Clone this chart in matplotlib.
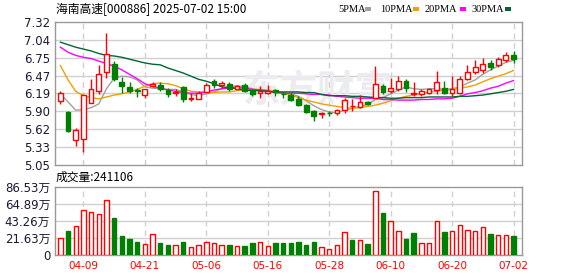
import matplotlib
matplotlib.use('Agg')
import matplotlib.pyplot as plt
from matplotlib.patches import Rectangle
import pandas as pd

# ---- data ----
title = '海南高速[000886] 2025-07-02 15:00'
holidays = ['2025-04-04', '2025-05-01', '2025-05-02', '2025-05-05', '2025-06-02']
dates = [d for d in pd.bdate_range('2025-04-03', '2025-07-02') if d.strftime('%Y-%m-%d') not in holidays]
tick_labels = ['04-09', '04-21', '05-06', '05-16', '05-28', '06-10', '06-20', '07-02']

opens = [6.06, 5.89, 5.45, 5.46, 6.03, 6.22, 6.53, 6.66, 6.37, 6.29,
         6.24, 6.16, 6.31, 6.32, 6.24, 6.20, 6.29, 6.09, 6.09, 6.21,
         6.38, 6.32, 6.33, 6.26, 6.32, 6.22, 6.19, 6.19, 6.24, 6.18,
         6.16, 6.09, 6.00, 5.91, 5.86, 5.88, 5.88, 5.93, 5.98, 5.97,
         6.05, 6.12, 6.30, 6.23, 6.26, 6.38, 6.17, 6.18, 6.20, 6.24,
         6.28, 6.20, 6.20, 6.42, 6.53, 6.56, 6.67, 6.64, 6.71, 6.80]
highs = [6.22, 5.90, 5.63, 6.17, 6.42, 6.63, 7.14, 6.70, 6.44, 6.36,
         6.28, 6.26, 6.36, 6.37, 6.28, 6.26, 6.31, 6.19, 6.22, 6.35,
         6.41, 6.38, 6.36, 6.32, 6.35, 6.25, 6.30, 6.32, 6.26, 6.21,
         6.19, 6.15, 6.02, 5.93, 5.89, 5.90, 5.94, 6.11, 6.09, 6.16,
         6.06, 6.62, 6.34, 6.43, 6.47, 6.42, 6.37, 6.26, 6.27, 6.55,
         6.39, 6.46, 6.47, 6.64, 6.72, 6.75, 6.72, 6.77, 6.84, 6.86]
lows = [6.02, 5.58, 5.35, 5.25, 6.03, 6.17, 6.43, 6.38, 6.19, 6.19,
        6.13, 6.12, 6.29, 6.23, 6.13, 6.14, 6.05, 6.07, 6.09, 6.21,
        6.28, 6.28, 6.22, 6.25, 6.21, 6.14, 6.12, 6.18, 6.15, 6.12,
        6.06, 5.99, 5.88, 5.75, 5.79, 5.83, 5.84, 5.87, 5.91, 5.96,
        6.01, 6.11, 6.18, 6.19, 6.23, 6.21, 6.15, 6.15, 6.18, 6.18,
        6.17, 6.15, 6.18, 6.40, 6.50, 6.51, 6.56, 6.60, 6.69, 6.67]
closes = [6.19, 5.59, 5.60, 6.16, 6.25, 6.49, 6.81, 6.42, 6.31, 6.23,
          6.22, 6.26, 6.33, 6.26, 6.17, 6.21, 6.09, 6.11, 6.19, 6.32,
          6.32, 6.35, 6.26, 6.30, 6.22, 6.17, 6.22, 6.23, 6.21, 6.17,
          6.08, 6.00, 5.89, 5.83, 5.87, 5.87, 5.93, 6.08, 5.98, 6.05,
          6.02, 6.34, 6.21, 6.27, 6.38, 6.27, 6.19, 6.22, 6.25, 6.37,
          6.20, 6.26, 6.41, 6.52, 6.60, 6.65, 6.61, 6.73, 6.80, 6.74]

ma5 = [6.18, 6.05, 5.92, 5.93, 5.96, 6.02, 6.26, 6.43, 6.46, 6.45,
       6.40, 6.29, 6.27, 6.26, 6.25, 6.25, 6.21, 6.17, 6.15, 6.18,
       6.21, 6.26, 6.29, 6.31, 6.29, 6.26, 6.23, 6.23, 6.21, 6.20,
       6.18, 6.14, 6.07, 5.99, 5.93, 5.89, 5.88, 5.92, 5.95, 5.98,
       6.01, 6.09, 6.12, 6.18, 6.24, 6.29, 6.26, 6.25, 6.26, 6.26,
       6.25, 6.26, 6.29, 6.35, 6.40, 6.49, 6.56, 6.62, 6.68, 6.71]
ma10 = [6.63, 6.40, 6.22, 6.15, 6.12, 6.10, 6.13, 6.16, 6.18, 6.21,
        6.25, 6.30, 6.34, 6.35, 6.34, 6.31, 6.26, 6.22, 6.21, 6.21,
        6.20, 6.21, 6.21, 6.23, 6.24, 6.25, 6.25, 6.24, 6.21, 6.19,
        6.16, 6.12, 6.08, 6.05, 6.02, 6.00, 5.98, 5.96, 5.95, 5.96,
        5.98, 6.00, 6.03, 6.07, 6.11, 6.14, 6.16, 6.19, 6.21, 6.22,
        6.24, 6.25, 6.27, 6.29, 6.32, 6.37, 6.42, 6.46, 6.50, 6.55]
ma20 = [6.92, 6.84, 6.79, 6.76, 6.74, 6.70, 6.66, 6.62, 6.56, 6.49,
        6.42, 6.34, 6.30, 6.27, 6.24, 6.22, 6.20, 6.19, 6.19, 6.21,
        6.24, 6.26, 6.27, 6.28, 6.27, 6.25, 6.24, 6.22, 6.20, 6.19,
        6.19, 6.19, 6.18, 6.17, 6.17, 6.16, 6.14, 6.13, 6.12, 6.11,
        6.11, 6.11, 6.09, 6.09, 6.08, 6.08, 6.08, 6.09, 6.09, 6.10,
        6.10, 6.11, 6.14, 6.18, 6.20, 6.23, 6.27, 6.30, 6.35, 6.39]
ma30 = [7.00, 6.96, 6.92, 6.89, 6.86, 6.82, 6.79, 6.78, 6.76, 6.73,
        6.70, 6.67, 6.65, 6.64, 6.59, 6.55, 6.51, 6.46, 6.41, 6.38,
        6.34, 6.29, 6.28, 6.26, 6.24, 6.23, 6.23, 6.22, 6.21, 6.21,
        6.21, 6.21, 6.20, 6.20, 6.17, 6.15, 6.15, 6.15, 6.14, 6.14,
        6.13, 6.12, 6.12, 6.11, 6.11, 6.12, 6.12, 6.12, 6.13, 6.13,
        6.13, 6.13, 6.14, 6.14, 6.15, 6.16, 6.18, 6.20, 6.22, 6.25]

# volume in 万 (10k lots)
volume = [21.5, 30.4, 36.7, 57.0, 54.0, 51.9, 69.6, 47.3, 24.5, 20.3,
          16.9, 13.9, 26.6, 15.2, 12.7, 12.7, 16.5, 10.1, 12.7, 16.5,
          14.8, 12.7, 12.7, 11.4, 11.4, 15.2, 16.0, 11.4, 15.2, 15.2,
          15.2, 16.5, 12.7, 16.5, 10.1, 7.2, 12.7, 29.1, 19.0, 19.0,
          13.9, 81.0, 53.2, 42.6, 30.0, 20.3, 27.9, 14.8, 14.8, 42.6,
          29.1, 30.0, 37.6, 31.2, 30.0, 35.5, 26.6, 24.9, 24.9, 24.1106]

price_ticks = [5.05, 5.33, 5.62, 5.90, 6.19, 6.47, 6.75, 7.04, 7.32]
vol_ticks = [0, 21.63, 43.26, 64.89, 86.53]

# ---- style ----
RED = '#ff0000'
GREEN = '#008000'
GRID = '#d0d0d0'
SPINE = '#999999'
TXT = '#1a1a33'
ma_colors = ['#a0a0a0', '#f0a000', '#ff00ff', '#006633']
W, H = 578, 276


def fx(x):
    return x / W


def fy(y):
    return 1 - y / H


fig = plt.figure(figsize=(W / 100, H / 100), dpi=100)
ax = fig.add_axes([fx(55), fy(165), (522 - 55) / W, (165 - 22) / H])
axv = fig.add_axes([fx(55), fy(255), (522 - 55) / W, (255 - 186.7) / H])

n = len(closes)
xs = list(range(n))
date_str = [d.strftime('%m-%d') for d in dates]
tick_pos = [date_str.index(t) for t in tick_labels]

for a in (ax, axv):
    a.set_xlim(-0.7, n + 0.1)
    for s in a.spines.values():
        s.set_color(SPINE)
        s.set_linewidth(1)
    a.tick_params(length=0, colors=TXT, labelsize=8.5)
    for p in tick_pos:
        a.axvline(p, color=GRID, lw=1, ls=(0, (4, 3)), zorder=0)

# price panel
ax.set_ylim(price_ticks[0], price_ticks[-1])
ax.set_yticks(price_ticks)
ax.set_yticklabels(['%.2f' % v for v in price_ticks])
for v in price_ticks[1:-1]:
    ax.axhline(v, color=GRID, lw=1, zorder=0)
ax.set_xticks([])

# watermark, kept behind the candles
ax.text(fx(318), fy(91), '东方财富', fontsize=27, fontweight='bold', color='#ebebf0',
        ha='center', va='center', family=['Noto Sans CJK SC'],
        transform=fig.transFigure, zorder=0.5)

for m, c in zip([ma5, ma10, ma20, ma30], ma_colors):
    ax.plot(xs, m, color=c, lw=1, zorder=2)

for i in xs:
    o, h, l, c = opens[i], highs[i], lows[i], closes[i]
    up = c >= o
    col = RED if up else GREEN
    ax.vlines(i, l, h, color=col, lw=1, zorder=3)
    body = max(abs(c - o), 0.006)
    ax.bar(i, body, bottom=min(o, c), width=0.62,
           facecolor='white' if up else GREEN, edgecolor=col, lw=1, zorder=4)

# volume panel
axv.set_ylim(0, vol_ticks[-1])
axv.set_yticks(vol_ticks)
axv.set_yticklabels(['0'] + ['%.2f万' % v for v in vol_ticks[1:]],
                    family=['DejaVu Sans', 'Noto Sans CJK SC'])
for v in vol_ticks[1:-1]:
    axv.axhline(v, color=GRID, lw=1, zorder=0)
axv.set_xticks(tick_pos)
axv.set_xticklabels(tick_labels, color=RED, fontsize=7.5)
axv.tick_params(axis='x', pad=4)

for i in xs:
    prev = closes[i - 1] if i > 0 else opens[i]
    up = closes[i] >= prev
    col = RED if up else GREEN
    axv.bar(i, volume[i], width=0.58, facecolor='white' if up else GREEN,
            edgecolor=col, lw=1, zorder=3)

# header texts
cjk = ['Noto Sans CJK SC', 'DejaVu Sans']
fig.text(fx(56), fy(9), title, fontsize=8.5, family=cjk, color='black', va='center')
fig.text(fx(56), fy(177), '成交量:%d' % round(volume[-1] * 10000), fontsize=8.5,
         family=cjk, color='black', va='center')

legend_x = [338, 380, 425, 472]
square_x = [365, 413, 460, 505]
for lab, lx, sx, c in zip(['5PMA', '10PMA', '20PMA', '30PMA'], legend_x, square_x, ma_colors):
    fig.text(fx(lx), fy(9), lab, fontsize=7.5, family='Liberation Serif', color='black', va='center')
    fig.add_artist(Rectangle((fx(sx), fy(10.5)), 6 / W, 3 / H, transform=fig.transFigure,
                             facecolor=c, edgecolor='none'))

fig.savefig('out.png', dpi=100)
